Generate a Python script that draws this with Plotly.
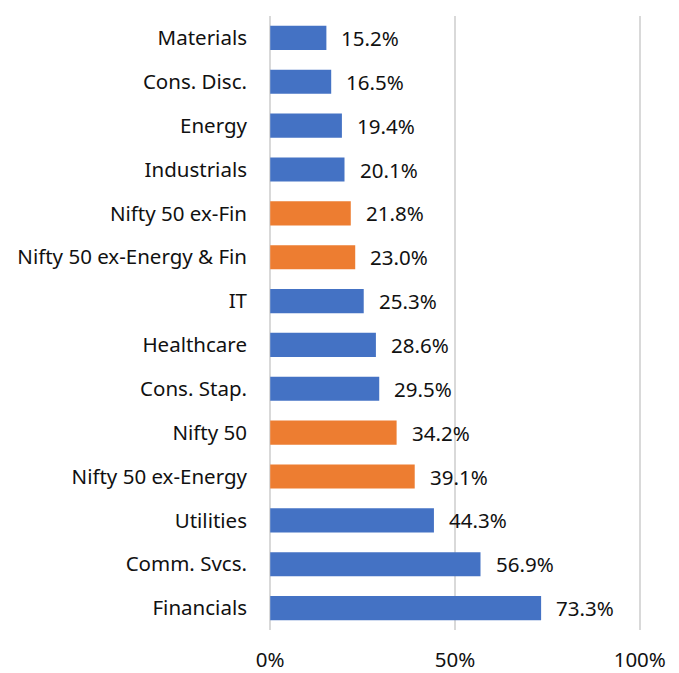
import plotly.graph_objects as go

categories = ["Materials", "Cons. Disc.", "Energy", "Industrials", "Nifty 50 ex-Fin",
              "Nifty 50 ex-Energy & Fin", "IT", "Healthcare", "Cons. Stap.", "Nifty 50",
              "Nifty 50 ex-Energy", "Utilities", "Comm. Svcs.", "Financials"]
values = [15.2, 16.5, 19.4, 20.1, 21.8, 23.0, 25.3, 28.6, 29.5, 34.2, 39.1, 44.3, 56.9, 73.3]
is_index = [False, False, False, False, True, True, False, False, False, True, True, False, False, False]
tick_vals = [0, 50, 100]
tick_text = ["0%", "50%", "100%"]

BLUE = "#4472C4"
ORANGE = "#ED7D31"
colors = [ORANGE if f else BLUE for f in is_index]
FONT = "Noto Sans"
TXT = "#111111"

fig = go.Figure()
fig.add_trace(go.Bar(
    y=categories, x=values, orientation="h",
    marker=dict(color=colors, line=dict(width=0)),
    width=0.55,
    showlegend=False,
    hoverinfo="skip",
))

for c, v in zip(categories, values):
    fig.add_annotation(x=v, y=c, text=f"{v:.1f}%", showarrow=False,
                       xanchor="left", yanchor="middle", xshift=13,
                       font=dict(family=FONT, size=20.5, color=TXT))

fig.update_layout(
    width=679, height=673,
    margin=dict(l=268, r=37, t=16, b=43, autoexpand=False),
    paper_bgcolor="white", plot_bgcolor="white",
    font=dict(family=FONT, size=20.5, color=TXT),
    bargap=0.45,
)
fig.update_xaxes(range=[-0.6, 100.6], tickvals=tick_vals, ticktext=tick_text,
                 showgrid=True, gridcolor="#d9d9d9", gridwidth=2,
                 zeroline=False, showline=False, ticks="", automargin=False,
                 ticklabelstandoff=15, fixedrange=True)
fig.update_yaxes(categoryorder="array", categoryarray=categories, autorange="reversed",
                 showgrid=False, zeroline=False, showline=False, ticks="", automargin=False,
                 ticklabelstandoff=20, fixedrange=True)

fig.write_html("out.html")
